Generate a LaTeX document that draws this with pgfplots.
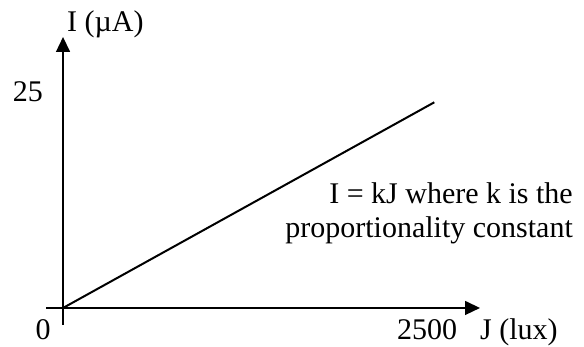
\documentclass[border=0pt]{standalone}
\usepackage{pgfplots}
\pgfplotsset{compat=1.18}
\usetikzlibrary{arrows.meta}
\usepackage{fontspec}
\setmainfont{Liberation Serif}

\begin{document}
\begin{tikzpicture}[x=1pt,y=1pt]
  \fontsize{30}{34}\selectfont
  \path[use as bounding box] (0,0) rectangle (584,347);
  \begin{axis}[
    at={(46pt,22pt)}, anchor=south west,
    scale only axis, width=434pt, height=288pt,
    xmin=-117, xmax=2864, ymin=-1.97, ymax=31.36,
    axis lines=middle,
    axis line style={line width=1.5pt, -{Triangle[length=15pt,width=14pt]}},
    xtick=\empty, ytick=\empty,
    clip=false,
  ]
    % photocurrent grows linearly with illuminance
    \addplot[black, line width=2pt] coordinates {(0,0) (2550,23.8)};
  \end{axis}
  % axis labels and marked values
  \node[anchor=base west, inner sep=0] at (67,315) {I (\textmu A)};
  \node[anchor=base east, inner sep=0] at (43,245) {25};
  \node[anchor=base, inner sep=0] at (43,7) {0};
  \node[anchor=base, inner sep=0] at (427,7) {2500};
  \node[anchor=base west, inner sep=0] at (480,7) {J (lux)};
  \node[anchor=base east, inner sep=0] at (573,143) {I = kJ where k is the};
  \node[anchor=base east, inner sep=0] at (573,109) {proportionality constant};
\end{tikzpicture}
\end{document}
